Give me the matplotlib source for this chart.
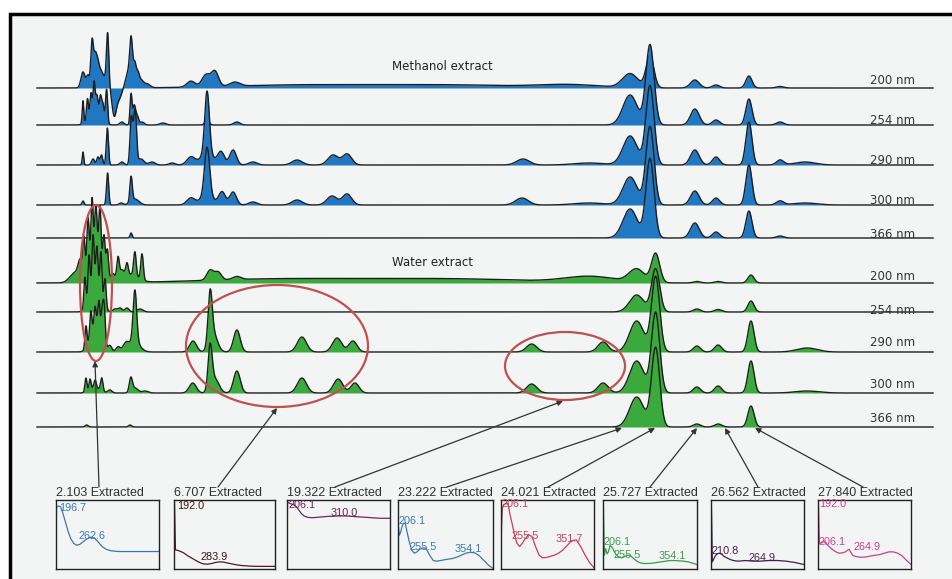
import numpy as np
import matplotlib
matplotlib.use("Agg")
import matplotlib.pyplot as plt
from matplotlib.patches import Ellipse, Rectangle

W, H = 952, 579

# retention time -> pixel calibration of the stacked chromatograms
X0, PX_PER_MIN = 38.5, 25.5
T_START, T_END = -0.06, 35.08

wavelength_labels = ["200 nm", "254 nm", "290 nm", "300 nm", "366 nm"]

# peaks: (retention time [min], height, width sigma [min])
meoh_200 = [(1.745, 16, 0.08), (1.94, 12, 0.06), (2.10, 45, 0.05), (2.22, 30, 0.06),
            (2.33, 22, 0.06), (2.45, 14, 0.06), (2.57, 10, 0.06), (2.71, 55, 0.047),
            (2.96, -22, 0.08), (3.12, -12, 0.137), (3.63, 28, 0.047), (3.63, 24, 0.157),
            (3.78, 10, 0.047), (3.90, 10, 0.06), (4.04, 6, 0.08), (4.25, 4, 0.12),
            (5.98, 6, 0.16), (6.57, 12, 0.16), (6.92, 15, 0.14), (7.70, 4, 0.2),
            (10.25, 3, 2.7), (16.1, 3, 2.7), (20.8, 3, 1.2), (23.20, 14, 0.3),
            (23.98, 32, 0.15), (25.74, 8, 0.17), (26.57, 3, 0.14), (27.86, 12, 0.12),
            (29.08, 1.5, 0.14)]
meoh_254 = [(1.745, 23, 0.03), (1.92, 22, 0.04), (2.06, 24, 0.04), (2.18, 33, 0.04),
            (2.29, 20, 0.045), (2.43, 22, 0.045), (2.53, 16, 0.045), (2.67, 34, 0.04),
            (2.22, 10, 0.235), (3.27, 3, 0.08), (3.63, 31, 0.04), (3.75, 18, 0.047),
            (3.86, 10, 0.06), (4.06, 3, 0.08), (4.88, 2, 0.12), (6.61, 5, 0.08),
            (7.78, 3, 0.12), (23.20, 30, 0.28), (23.98, 80, 0.16), (25.74, 16, 0.17),
            (26.57, 5, 0.14), (27.86, 26, 0.12), (29.08, 3, 0.14)]
meoh_290 = [(1.745, 13, 0.03), (2.14, 6, 0.06), (2.33, 8, 0.047), (2.47, 10, 0.047),
            (2.70, 37, 0.043), (3.27, 3, 0.08), (3.63, 34, 0.047), (3.73, 30, 0.08),
            (3.80, 33, 0.05), (4.02, 6, 0.12), (4.45, 3, 0.12), (5.24, 2, 0.12),
            (5.98, 8, 0.16), (6.61, 62, 0.09), (6.61, 12, 0.235), (7.16, 13, 0.13),
            (7.63, 15, 0.13), (8.41, 3, 0.16), (10.14, 5, 0.2), (11.55, 10, 0.2),
            (12.10, 11, 0.18), (19.0, 6, 0.25), (21.6, 2, 0.6), (23.20, 29, 0.28),
            (23.98, 79, 0.16), (25.74, 15, 0.17), (26.57, 8, 0.14), (27.86, 43, 0.12),
            (29.08, 5, 0.14), (30.06, 3, 0.4)]
meoh_300 = [(1.745, 4, 0.04), (2.71, 32, 0.043), (3.24, 2, 0.08), (3.63, 25, 0.047),
            (3.78, 6, 0.16), (5.98, 7, 0.16), (6.61, 48, 0.1), (6.61, 10, 0.235),
            (7.20, 13, 0.13), (7.63, 13, 0.13), (8.41, 3, 0.16), (10.14, 5, 0.2),
            (11.51, 9, 0.2), (12.10, 11, 0.18), (18.96, 7, 0.25), (21.6, 2, 0.6),
            (23.20, 28, 0.28), (23.98, 78, 0.16), (25.74, 14, 0.17), (26.57, 7, 0.14),
            (27.86, 40, 0.12), (29.08, 4, 0.14), (30.06, 2, 0.47)]
meoh_366 = [(3.63, 5, 0.04), (23.20, 29, 0.28), (23.98, 79, 0.16), (25.74, 15, 0.17),
            (26.57, 6, 0.14), (27.86, 27, 0.12), (29.08, 2, 0.14)]

water_200 = [(1.43, 10, 0.2), (1.63, 16, 0.08), (1.78, 35, 0.043), (1.94, 45, 0.043),
             (2.10, 50, 0.04), (2.25, 38, 0.043), (2.41, 48, 0.043), (2.57, 34, 0.043),
             (2.70, 28, 0.047), (2.22, 40, 0.235), (2.92, 8, 0.08), (3.12, 22, 0.05),
             (3.27, 8, 0.08), (3.47, 12, 0.05), (3.78, 24, 0.05), (4.06, 26, 0.05),
             (3.59, 8, 0.3), (6.73, 10, 0.13), (7.04, 8, 0.13), (7.78, 3, 0.16),
             (9.47, 4, 3.1), (16.14, 4, 3.1), (21.63, 6, 1.0), (23.46, 13, 0.3),
             (24.20, 29, 0.16), (25.82, 1.5, 0.14), (26.65, 1.5, 0.14), (27.94, 8, 0.12)]
water_254 = [(1.82, 30, 0.04), (1.98, 40, 0.04), (2.14, 45, 0.04), (2.29, 33, 0.04),
             (2.45, 42, 0.04), (2.61, 28, 0.043), (2.22, 35, 0.2), (3.0, 3, 0.08),
             (3.2, 4, 0.08), (3.47, 4, 0.08), (3.98, 3, 0.12), (23.46, 17, 0.28),
             (24.20, 43, 0.16), (25.82, 3, 0.14), (26.65, 2.5, 0.14), (27.94, 11, 0.12)]
water_290 = [(1.86, 22, 0.04), (2.05, 24, 0.04), (2.22, 18, 0.04), (2.37, 28, 0.043),
             (2.49, 22, 0.04), (2.57, 40, 0.047), (2.25, 28, 0.2), (2.80, 6, 0.08),
             (3.12, 5, 0.08), (3.43, 8, 0.12), (3.78, 52, 0.07), (3.78, 10, 0.2),
             (6.06, 11, 0.137), (6.73, 50, 0.08), (6.86, 18, 0.16), (7.78, 22, 0.13),
             (10.33, 15, 0.18), (11.71, 14, 0.18), (12.33, 11, 0.16), (19.34, 8, 0.2),
             (22.14, 10, 0.2), (23.46, 31, 0.28), (24.20, 75, 0.16), (25.82, 6, 0.14),
             (26.65, 7, 0.14), (27.94, 31, 0.12), (30.14, 4, 0.4)]
water_300 = [(1.86, 14, 0.04), (2.02, 11, 0.04), (2.22, 8, 0.047), (2.48, 13, 0.047),
             (2.22, 5, 0.2), (2.80, 3, 0.08), (3.62, 14, 0.06), (3.78, 5, 0.12),
             (4.18, 2, 0.12), (6.05, 10, 0.137), (6.73, 43, 0.08), (6.92, 14, 0.16),
             (7.78, 22, 0.13), (10.33, 15, 0.18), (11.75, 14, 0.18), (12.41, 10, 0.16),
             (19.34, 9, 0.2), (22.14, 10, 0.2), (23.46, 32, 0.28), (24.20, 80, 0.16),
             (25.82, 6, 0.14), (26.65, 7, 0.14), (27.94, 32, 0.12), (30.14, 2, 0.47)]
water_366 = [(1.89, 2, 0.06), (3.59, 2, 0.06), (23.46, 30, 0.28), (24.20, 79, 0.16),
             (25.82, 3, 0.14), (26.65, 3, 0.14), (27.94, 21, 0.12)]

extracted_rt = ["2.103", "6.707", "19.322", "23.222", "24.021", "25.727", "26.562", "27.840"]

# UV spectra of the extracted peaks (normalised absorbance)
spec_wl = [190, 191, 193, 196, 199, 202, 206, 210, 215, 220, 226, 232, 238, 245, 252, 260,
           268, 276, 284, 292, 300, 310, 320, 330, 340, 350, 360, 370, 380, 390, 400]
spec_2103 = [0.0, 0.92, 0.93, 0.94, 0.93, 0.88, 0.78, 0.68, 0.55, 0.45, 0.38, 0.35, 0.36, 0.40,
             0.44, 0.47, 0.46, 0.40, 0.33, 0.29, 0.27, 0.26, 0.255, 0.255, 0.255, 0.255, 0.255,
             0.255, 0.255, 0.255, 0.255]
spec_6707 = [0.0, 1.0, 0.28, 0.275, 0.27, 0.26, 0.25, 0.235, 0.21, 0.185, 0.16, 0.135, 0.11,
             0.085, 0.068, 0.065, 0.075, 0.09, 0.10, 0.097, 0.085, 0.07, 0.055, 0.045, 0.04,
             0.035, 0.033, 0.032, 0.032, 0.032, 0.032]
spec_19322 = [0.0, 0.99, 0.99, 0.98, 0.97, 0.96, 0.95, 0.92, 0.87, 0.82, 0.785, 0.77, 0.765,
              0.765, 0.77, 0.775, 0.78, 0.785, 0.785, 0.79, 0.79, 0.79, 0.785, 0.78, 0.775,
              0.77, 0.765, 0.76, 0.755, 0.755, 0.755]
spec_23222 = [0.45, 0.62, 0.5, 0.55, 0.63, 0.68, 0.68, 0.55, 0.40, 0.28, 0.23, 0.25, 0.29, 0.31,
              0.30, 0.2, 0.12, 0.11, 0.12, 0.13, 0.14, 0.15, 0.17, 0.2, 0.23, 0.245, 0.235,
              0.19, 0.12, 0.05, 0.0]
spec_24021 = [0.1, 0.6, 0.9, 0.96, 0.97, 0.975, 0.975, 0.82, 0.68, 0.52, 0.38, 0.33, 0.38, 0.45,
              0.51, 0.48, 0.33, 0.2, 0.16, 0.165, 0.18, 0.2, 0.23, 0.28, 0.35, 0.42, 0.43, 0.33,
              0.2, 0.09, 0.01]
spec_25727 = [0.08, 0.9, 0.2, 0.3, 0.22, 0.25, 0.35, 0.32, 0.26, 0.2, 0.17, 0.16, 0.18, 0.2,
              0.19, 0.14, 0.1, 0.08, 0.075, 0.075, 0.08, 0.09, 0.1, 0.11, 0.12, 0.12, 0.115,
              0.11, 0.1, 0.08, 0.06]
spec_26562 = [0.05, 0.94, 0.1, 0.14, 0.18, 0.21, 0.225, 0.23, 0.21, 0.18, 0.16, 0.14, 0.125,
              0.115, 0.11, 0.115, 0.12, 0.115, 0.11, 0.11, 0.11, 0.115, 0.12, 0.12, 0.12, 0.115,
              0.11, 0.1, 0.09, 0.075, 0.06]
spec_27840 = [0.38, 0.99, 0.38, 0.38, 0.39, 0.40, 0.40, 0.37, 0.33, 0.3, 0.27, 0.245, 0.23,
              0.235, 0.25, 0.29, 0.2, 0.18, 0.17, 0.17, 0.175, 0.19, 0.2, 0.21, 0.23, 0.25,
              0.25, 0.23, 0.19, 0.12, 0.06]
spec_maxima = [["196.7", "262.6"], ["192.0", "283.9"], ["206.1", "310.0"],
               ["206.1", "255.5", "354.1"], ["206.1", "255.5", "351.7"],
               ["206.1", "255.5", "354.1"], ["210.8", "264.9"], ["192.0", "206.1", "264.9"]]


def chromatogram(t, peaks):
    y = np.zeros_like(t)
    for rt, h, w in peaks:
        y += h * np.exp(-0.5 * ((t - rt) / w) ** 2)
    return y


fig = plt.figure(figsize=(W / 100, H / 100), dpi=100, facecolor="white")

# background + frame
bg = fig.add_axes([0, 0, 1, 1])
bg.set_xlim(0, W)
bg.set_ylim(H, 0)
bg.axis("off")
bg.add_patch(Rectangle((10, 14), W + 20, H, facecolor="#f3f5f5", edgecolor="black", lw=2.5))

# stacked chromatograms
ax = fig.add_axes([0, 0, 1, 1])
ax.set_xlim(-X0 / PX_PER_MIN, (W - X0) / PX_PER_MIN)
ax.set_ylim(H, 0)
ax.axis("off")
ax.patch.set_alpha(0)

t = np.linspace(T_START, T_END, 8000)
traces = [(meoh_200, 88, "#2077c2"), (meoh_254, 125, "#2077c2"), (meoh_290, 165, "#2077c2"),
          (meoh_300, 205, "#2077c2"), (meoh_366, 238, "#2077c2"),
          (water_200, 283, "#3aaa3c"), (water_254, 312, "#3aaa3c"), (water_290, 352, "#3aaa3c"),
          (water_300, 393, "#3aaa3c"), (water_366, 427, "#3aaa3c")]
for i, (peaks, base, color) in enumerate(traces):
    y = base - chromatogram(t, peaks)
    ax.fill_between(t, base, y, color=color, lw=0, zorder=2 + 2 * i)
    ax.plot(t, y, color="#1e1e1e", lw=1.0, zorder=3 + 2 * i)

# annotations in pixel space
ov = fig.add_axes([0, 0, 1, 1])
ov.set_xlim(0, W)
ov.set_ylim(H, 0)
ov.axis("off")
ov.patch.set_alpha(0)

label_y = [80, 120, 160, 200, 234, 276, 310, 343, 384, 418]
for i, yy in enumerate(label_y):
    ov.text(870, yy, wavelength_labels[i % 5], fontsize=8.5, color="#333333",
            family="DejaVu Sans", va="center", ha="left")
ov.text(392, 67, "Methanol extract", fontsize=8.5, color="#222222", va="center")
ov.text(392, 263, "Water extract", fontsize=8.5, color="#222222", va="center")

for cx, cy, ew, eh in [(96, 283, 32, 156), (277, 346, 182, 122), (565, 366, 120, 68)]:
    ov.add_patch(Ellipse((cx, cy), ew, eh, fill=False, edgecolor="#c0504d", lw=1.6, zorder=30))

arrows = [((99, 487), (95, 361)), ((218, 487), (277, 408)), ((335, 487), (563, 401)),
          ((447, 487), (622, 428)), ((548, 487), (655, 428)), ((650, 487), (697, 428)),
          ((758, 487), (725, 428)), ((863, 487), (755, 428))]
for start, end in arrows:
    ov.annotate("", xy=end, xytext=start,
                arrowprops=dict(arrowstyle="-|>", color="#333333", lw=0.9,
                                mutation_scale=8, shrinkA=0, shrinkB=0))

# extracted UV spectra insets
box_left = [56, 174, 287, 398, 501, 603, 711, 818]
box_right = [159, 275, 390, 493, 594, 697, 804, 911]
box_top, box_bottom = 500, 568.5
spectra = [spec_2103, spec_6707, spec_19322, spec_23222, spec_24021, spec_25727,
           spec_26562, spec_27840]
spec_colors = ["#3b78b0", "#4a1c24", "#6a2860", "#3b78b0", "#cc3a55", "#3a9a4c",
               "#3f1f4a", "#c8408a"]
label_colors = ["#3b78b0", "#3a1818", "#6a2050", "#3b78b0", "#c04060", "#3a9a4c",
                "#4a2050", "#c8408a"]
label_pos = [[(0.03, 0.89), (0.22, 0.47)], [(0.03, 0.91), (0.26, 0.17)],
             [(0.01, 0.93), (0.42, 0.81)], [(0.01, 0.70), (0.12, 0.31), (0.60, 0.28)],
             [(0.01, 0.94), (0.11, 0.48), (0.59, 0.43)], [(0.01, 0.39), (0.11, 0.19), (0.59, 0.18)],
             [(0.01, 0.25), (0.40, 0.15)], [(0.01, 0.94), (0.01, 0.38), (0.38, 0.32)]]

for i in range(8):
    l, r = box_left[i], box_right[i]
    ov.text(l, 493, f"{extracted_rt[i]} Extracted", fontsize=9, color="#303030",
            family="Liberation Sans", va="center", ha="left")
    bx = fig.add_axes([l / W, 1 - box_bottom / H, (r - l) / W, (box_bottom - box_top) / H])
    bx.patch.set_alpha(0)
    bx.plot(spec_wl, spectra[i], color=spec_colors[i], lw=0.9)
    bx.set_xlim(190, 400)
    bx.set_ylim(0, 1.03)
    bx.set_xticks([])
    bx.set_yticks([])
    for s in bx.spines.values():
        s.set_linewidth(1.0)
        s.set_color("#222222")
    for txt, (px, py) in zip(spec_maxima[i], label_pos[i]):
        bx.text(px, py, txt, transform=bx.transAxes, fontsize=7.8, color=label_colors[i],
                family="Liberation Sans", va="center", ha="left")

fig.savefig("out.png", dpi=100, facecolor="white")
